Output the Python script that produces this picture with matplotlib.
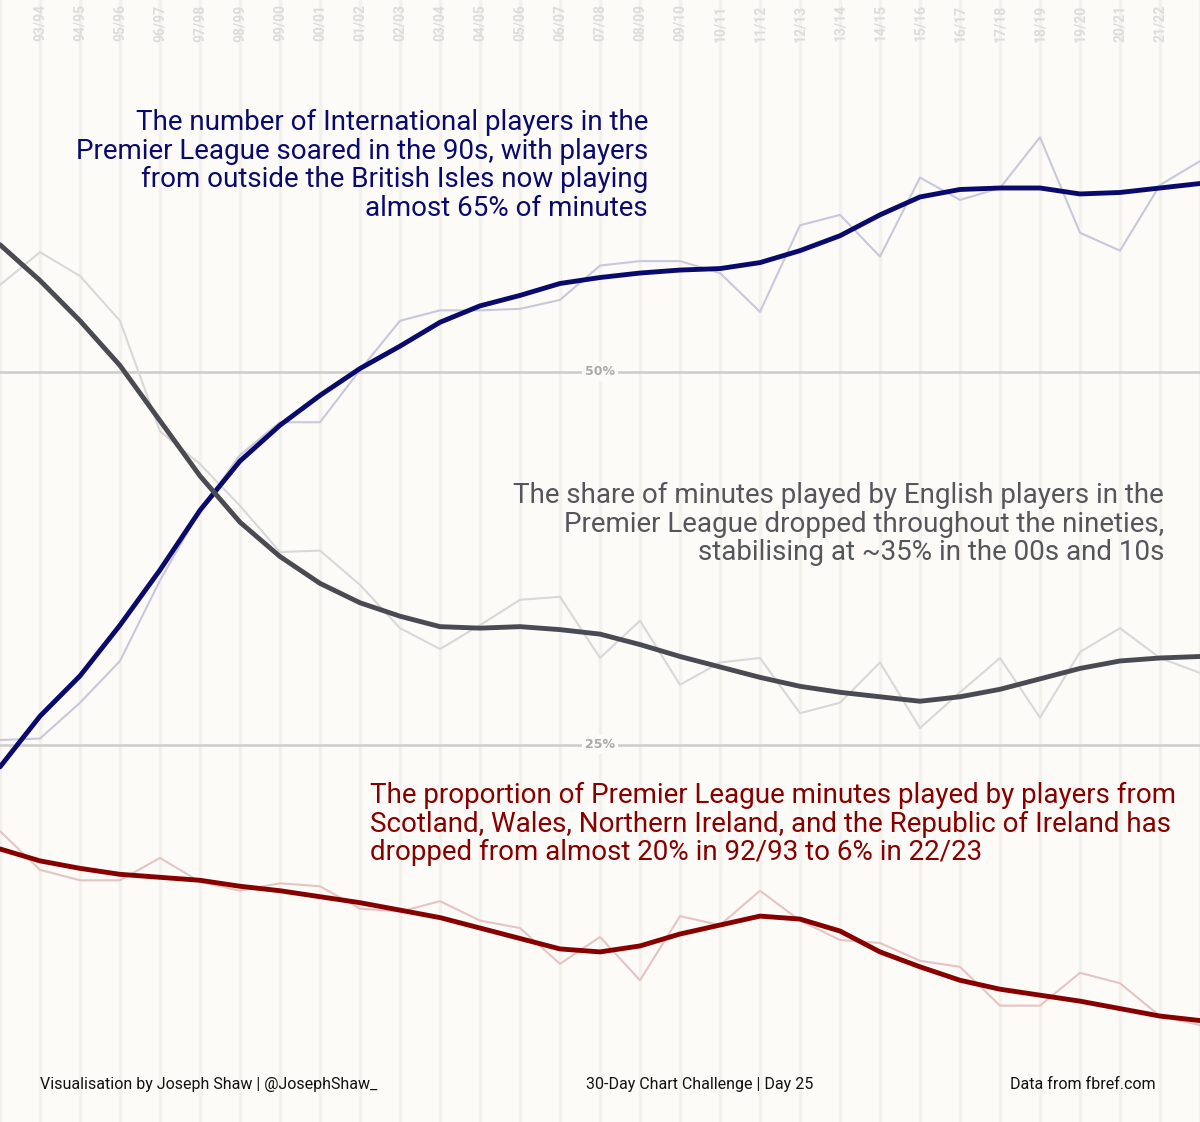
import matplotlib
matplotlib.use("Agg")
import matplotlib.pyplot as plt
from matplotlib import font_manager

names = {f.name for f in font_manager.fontManager.ttflist}
fam = "Liberation Sans Narrow" if "Liberation Sans Narrow" in names else "Roboto"

seasons = ["92/93","93/94","94/95","95/96","96/97","97/98","98/99","99/00","00/01","01/02","02/03",
           "03/04","04/05","05/06","06/07","07/08","08/09","09/10","10/11","11/12","12/13","13/14",
           "14/15","15/16","16/17","17/18","18/19","19/20","20/21","21/22","22/23"]
intl_raw = [25.3,25.4,27.8,30.6,36.0,40.7,44.4,46.6,46.6,50.1,53.4,54.1,54.1,54.2,54.8,57.1,57.4,57.4,56.6,54.0,59.8,60.5,57.7,63.0,61.5,62.3,65.7,59.3,58.1,62.5,64.1]
intl_smooth = [23.5,26.9,29.6,33.0,36.7,40.7,44.0,46.4,48.4,50.2,51.7,53.3,54.4,55.1,55.9,56.3,56.6,56.8,56.9,57.3,58.1,59.1,60.5,61.7,62.2,62.3,62.3,61.9,62.0,62.3,62.6]
eng_raw = [55.8,58.0,56.4,53.4,46.0,43.8,41.0,37.9,38.0,35.7,32.8,31.4,33.0,34.7,34.9,30.8,33.3,29.0,30.5,30.8,27.1,27.8,30.5,26.1,28.5,30.8,26.8,31.2,32.8,30.8,29.8]
eng_smooth = [58.5,56.1,53.4,50.4,46.7,43.0,39.9,37.6,35.8,34.5,33.6,32.9,32.8,32.9,32.7,32.4,31.7,30.9,30.2,29.5,28.9,28.5,28.2,27.9,28.2,28.7,29.4,30.1,30.6,30.8,30.9]
oth_raw = [19.2,16.6,15.9,15.9,17.4,15.8,15.2,15.7,15.5,14.0,13.8,14.5,13.2,12.7,10.3,12.1,9.2,13.5,12.9,15.2,13.2,11.9,11.7,10.5,10.1,7.5,7.5,9.7,9.0,6.8,6.2]
oth_smooth = [18.0,17.2,16.7,16.3,16.1,15.9,15.5,15.2,14.8,14.4,13.9,13.4,12.7,12.0,11.3,11.1,11.5,12.3,12.9,13.5,13.3,12.5,11.1,10.1,9.2,8.6,8.2,7.8,7.3,6.8,6.5]

bg = "#fcfbf7"
fig = plt.figure(figsize=(12, 11.22), dpi=100, facecolor=bg)
ax = fig.add_axes([0, 0, 1, 1])
ax.set_facecolor(bg)
ax.set_xlim(0, 30)
ax.set_ylim(-0.3, 74.9)
ax.axis("off")
x = list(range(len(seasons)))
for i in x:
    ax.axvline(i, color="#f3f1ec", lw=2.5, zorder=0)
for v in (25, 50):
    ax.axhline(v, color="#cccccc", lw=1.8, zorder=1)
    ax.text(15, v, f"{v}%", ha="center", va="center", fontsize=9, fontweight="bold",
            color="#aaaaaa", bbox=dict(facecolor=bg, edgecolor="none", pad=2), zorder=2)
for i in range(1, 30):
    ax.text(i, 74.6, seasons[i], rotation=90, ha="center", va="top", fontsize=10,
            fontweight="bold", color="#dcdcdc", family=fam)

ax.plot(x, intl_raw, color="#c8c8dc", lw=1.5, zorder=3)
ax.plot(x, eng_raw, color="#d8d8d8", lw=1.5, zorder=3)
ax.plot(x, oth_raw, color="#e6c4c4", lw=1.5, zorder=3)
kw = dict(lw=3.5, zorder=4, solid_joinstyle="round", solid_capstyle="round")
ax.plot(x, intl_smooth, color="#0a0a6e", **kw)
ax.plot(x, eng_smooth, color="#4a4a52", **kw)
ax.plot(x, oth_smooth, color="#870000", **kw)

fs = 20
ls = 1.08
ax.text(16.2, 67.6, "The number of International players in the\nPremier League soared in the 90s, with players\nfrom outside the British Isles now playing\nalmost 65% of minutes",
        ha="right", va="top", fontsize=fs, color="#0a0a6e", linespacing=ls, family=fam)
ax.text(29.1, 42.6, "The share of minutes played by English players in the\nPremier League dropped throughout the nineties,\nstabilising at ~35% in the 00s and 10s",
        ha="right", va="top", fontsize=fs, color="#55555c", linespacing=ls, family=fam)
ax.text(9.25, 22.5, "The proportion of Premier League minutes played by players from\nScotland, Wales, Northern Ireland, and the Republic of Ireland has\ndropped from almost 20% in 92/93 to 6% in 22/23",
        ha="left", va="top", fontsize=fs, color="#870000", linespacing=ls, family=fam)

fk = dict(va="center", fontsize=11.5, color="#111111", family=fam)
ax.text(1.0, 2.2, "Visualisation by Joseph Shaw | @JosephShaw_", ha="left", **fk)
ax.text(17.5, 2.2, "30-Day Chart Challenge | Day 25", ha="center", **fk)
ax.text(28.9, 2.2, "Data from fbref.com", ha="right", **fk)

fig.savefig("out.png", dpi=100, facecolor=bg)
